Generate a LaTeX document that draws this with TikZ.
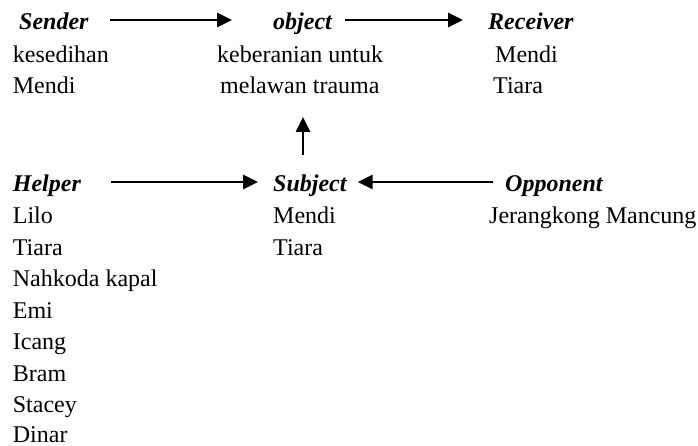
\documentclass[tikz,border=0pt]{standalone}
\usepackage{fontspec}
\setmainfont{Liberation Serif}
\usetikzlibrary{arrows.meta}
\begin{document}
\begin{tikzpicture}[x=1pt,y=-1pt,
  txt/.style={anchor=base west,inner sep=0pt,text height=16pt,text depth=5pt,font=\fontsize{24}{29}\selectfont},
  ttl/.style={txt,text height=20pt,text depth=0pt,font=\fontsize{24}{29}\selectfont\bfseries\itshape},
  arr/.style={line width=2.6pt,-{Triangle[length=15pt,width=14pt]}}]
\useasboundingbox (0,0) rectangle (698,446);
% top row
\node[ttl] (sender) at (19,30) {Sender};
\node[ttl] (object) at (273,30) {object};
\node[ttl] (receiver) at (488,30) {Receiver};
\node[txt] (s1) at (12.7,63) {kesedihan};
\node[txt] (s2) at (12.7,94) {Mendi};
\node[txt] (o1) at (217,63) {keberanian untuk};
\node[txt] (o2) at (220,94) {melawan trauma};
\node[txt] (r1) at (495,63) {Mendi};
\node[txt] (r2) at (493,94) {Tiara};
% bottom row
\node[ttl] (helper) at (12.7,192) {Helper};
\node[ttl] (subject) at (273,192) {Subject};
\node[ttl] (opponent) at (505,192) {Opponent};
\node[txt] (sub1) at (273,223.5) {Mendi};
\node[txt] (sub2) at (273,255) {Tiara};
\node[txt] (op1) at (489,223.5) {Jerangkong Mancung};
\node[txt] (h1) at (12.7,223.5) {Lilo};
\node[txt] (h2) at (12.7,255) {Tiara};
\node[txt] (h3) at (12.7,286.5) {Nahkoda kapal};
\node[txt] (h4) at (12.7,318) {Emi};
\node[txt] (h5) at (12.7,349.5) {Icang};
\node[txt] (h6) at (12.7,381) {Bram};
\node[txt] (h7) at (12.7,412.5) {Stacey};
\node[txt,text depth=0pt] (h8) at (12.7,442) {Dinar};
% arrows
\draw[arr,shorten <=21pt,shorten >=41pt] (sender.east) -- (object.west);
\draw[arr,shorten <=13pt,shorten >=25pt] (object.east) -- (receiver.west);
\draw[arr,shorten <=30pt,shorten >=15pt] (helper.east) -- (subject.west);
\draw[arr,shorten <=12pt,shorten >=11pt] (opponent.west) -- (subject.east);
\coordinate (ub) at (303,155);
\coordinate (ut) at (303,117);
\draw[arr] (ub) -- (ut);
\end{tikzpicture}
\end{document}
